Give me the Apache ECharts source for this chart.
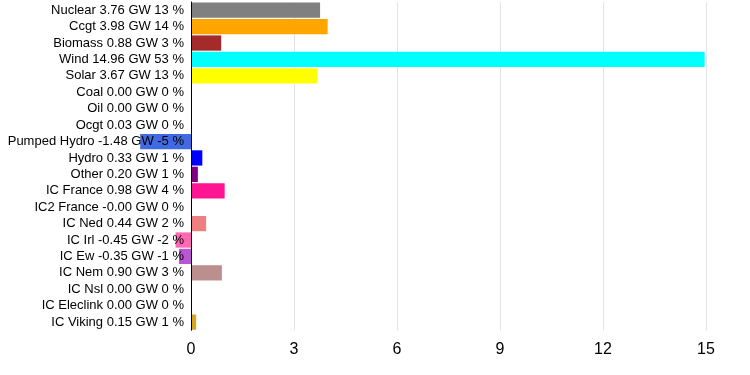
<!DOCTYPE html>
<html>
<head>
<meta charset="utf-8">
<script src="https://cdn.jsdelivr.net/npm/echarts@6/dist/echarts.min.js"></script>
<style>html,body{margin:0;padding:0;background:#fff;}#c{width:750px;height:375px;}</style>
</head>
<body>
<div id="c"></div>
<script>
var names = ["Nuclear","Ccgt","Biomass","Wind","Solar","Coal","Oil","Ocgt","Pumped Hydro","Hydro","Other","IC France","IC2 France","IC Ned","IC Irl","IC Ew","IC Nem","IC Nsl","IC Eleclink","IC Viking"];
var values = [3.76,3.98,0.88,14.96,3.67,0.00,0.00,0.03,-1.48,0.33,0.20,0.98,-0.001,0.44,-0.45,-0.35,0.90,0.00,0.00,0.15];
var percents = [13,14,3,53,13,0,0,0,-5,1,1,4,0,2,-2,-1,3,0,0,1];
var colors = ["#808080","#FFA500","#A52A2A","#00FFFF","#FFFF00","#000000","#666666","#3CB371","#4169E1","#0000FF","#800080","#FF1493","#FF1493","#F08080","#FF69B4","#BA55D3","#BC8F8F","#888888","#888888","#DAA520"];
var xTicks = [0,3,6,9,12,15];
var xMin = -1.5;

var labels = names.map(function(n,i){ return n + " " + values[i].toFixed(2) + " GW " + percents[i] + " %"; });
var chart = echarts.init(document.getElementById('c'), null, {renderer:'canvas'});
chart.setOption({
  animation:false,
  grid:[
    {left:139.5, right:44, top:2, bottom:44.7, outerBoundsMode:'none', containLabel:false},
    {left:191, right:44, top:2, bottom:44.7, outerBoundsMode:'none', containLabel:false}
  ],
  xAxis:[
    {gridIndex:0, type:'value', min:xMin, max:xTicks[xTicks.length-1], show:false},
    {gridIndex:1, type:'value', min:xTicks[0], max:xTicks[xTicks.length-1], interval:xTicks[1]-xTicks[0],
     axisLine:{show:false}, axisTick:{show:false},
     axisLabel:{color:'#000', fontSize:16, margin:11, fontFamily:'Liberation Sans, Arial, sans-serif'},
     splitLine:{show:true, lineStyle:{color:'#e3e3e3', width:1}}}
  ],
  yAxis:[
    {gridIndex:0, type:'category', inverse:true, data:labels, show:false},
    {gridIndex:1, type:'category', inverse:true, data:labels, z:5,
     axisLine:{show:true, onZero:false, lineStyle:{color:'#000', width:1}},
     axisTick:{show:false},
     axisLabel:{color:'#000', fontSize:13, margin:7, interval:0, fontFamily:'Liberation Sans, Arial, sans-serif'}}
  ],
  series:[{
    type:'bar', xAxisIndex:0, yAxisIndex:0, barCategoryGap:'7%',
    data: values.map(function(v,i){ return {value:v, itemStyle:{color:colors[i]}}; })
  }]
});
</script>
</body>
</html>
